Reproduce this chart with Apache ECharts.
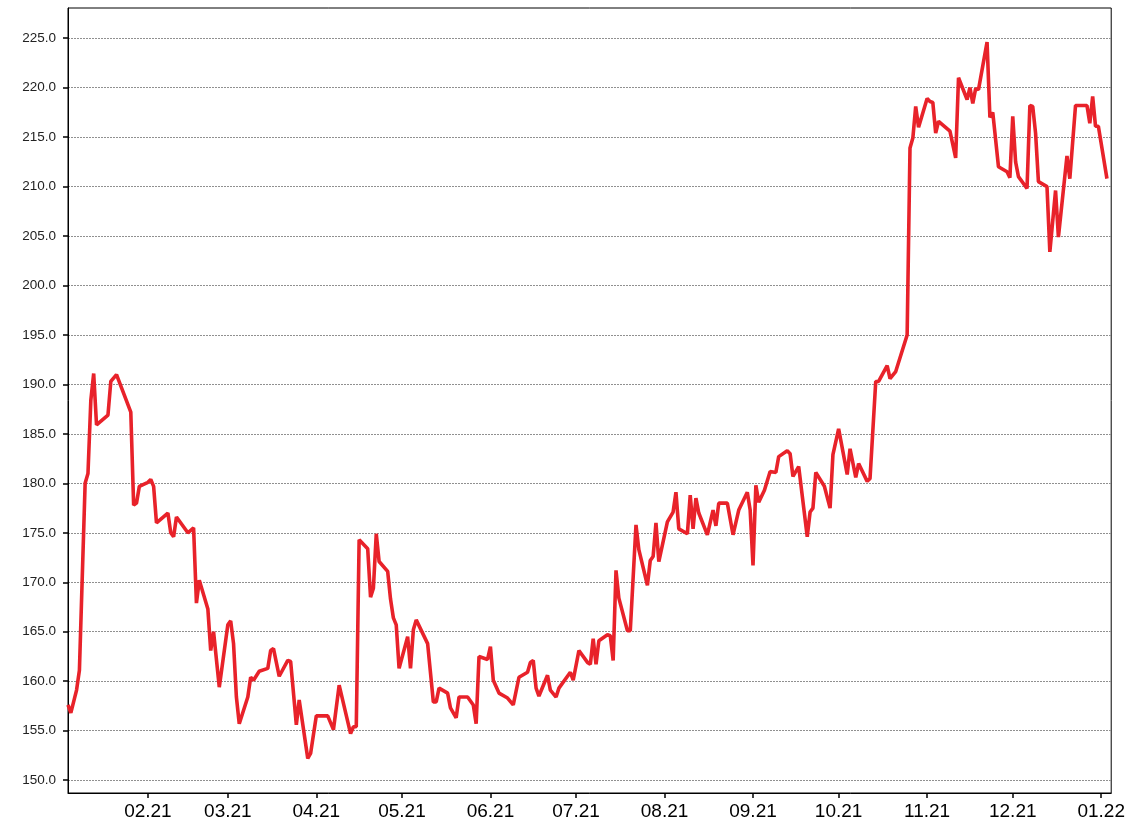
<!DOCTYPE html>
<html>
<head>
<meta charset="utf-8">
<script src="https://cdn.jsdelivr.net/npm/echarts@6/dist/echarts.min.js"></script>
<style>html,body{margin:0;padding:0;background:#fff}#c{width:1128px;height:836px}</style>
</head>
<body>
<div id="c"></div>
<script>
const dates = [
'2021-01-04','2021-01-05','2021-01-07','2021-01-08','2021-01-10','2021-01-11','2021-01-12','2021-01-13','2021-01-14',
'2021-01-18','2021-01-19','2021-01-21','2021-01-26','2021-01-27','2021-01-28','2021-01-29',
'2021-02-01','2021-02-02','2021-02-03','2021-02-04','2021-02-08','2021-02-09','2021-02-10','2021-02-11','2021-02-15',
'2021-02-17','2021-02-18','2021-02-19','2021-02-22','2021-02-23','2021-02-24','2021-02-26',
'2021-03-01','2021-03-02','2021-03-03','2021-03-04','2021-03-05','2021-03-08','2021-03-09','2021-03-10','2021-03-12',
'2021-03-15','2021-03-16','2021-03-17','2021-03-19','2021-03-22','2021-03-23','2021-03-25','2021-03-26','2021-03-29','2021-03-30',
'2021-04-01','2021-04-05','2021-04-07','2021-04-09','2021-04-13','2021-04-14','2021-04-15','2021-04-16','2021-04-19',
'2021-04-20','2021-04-21','2021-04-22','2021-04-23','2021-04-26','2021-04-27','2021-04-28','2021-04-29','2021-04-30',
'2021-05-03','2021-05-04','2021-05-05','2021-05-06','2021-05-10','2021-05-12','2021-05-13','2021-05-14','2021-05-17',
'2021-05-18','2021-05-20','2021-05-21','2021-05-24','2021-05-26','2021-05-27','2021-05-28','2021-05-31',
'2021-06-01','2021-06-02','2021-06-04','2021-06-07','2021-06-09','2021-06-11','2021-06-14','2021-06-15','2021-06-16',
'2021-06-17','2021-06-18','2021-06-21','2021-06-22','2021-06-24','2021-06-25','2021-06-29','2021-06-30',
'2021-07-02','2021-07-05','2021-07-06','2021-07-07','2021-07-08','2021-07-09','2021-07-12','2021-07-13','2021-07-14',
'2021-07-15','2021-07-16','2021-07-19','2021-07-20','2021-07-22','2021-07-23','2021-07-26','2021-07-27','2021-07-28',
'2021-07-29','2021-07-30',
'2021-08-02','2021-08-04','2021-08-05','2021-08-06','2021-08-09','2021-08-10','2021-08-11','2021-08-12','2021-08-13',
'2021-08-16','2021-08-18','2021-08-19','2021-08-20','2021-08-23','2021-08-25','2021-08-27','2021-08-30','2021-08-31',
'2021-09-01','2021-09-02','2021-09-03','2021-09-05','2021-09-07','2021-09-09','2021-09-10','2021-09-13','2021-09-14',
'2021-09-15','2021-09-17','2021-09-20','2021-09-21','2021-09-22','2021-09-23','2021-09-26','2021-09-28','2021-09-29',
'2021-10-01','2021-10-04','2021-10-05','2021-10-07','2021-10-08','2021-10-11','2021-10-12','2021-10-14','2021-10-15',
'2021-10-18','2021-10-19','2021-10-21','2021-10-25','2021-10-26','2021-10-27','2021-10-28','2021-10-29',
'2021-11-01','2021-11-02','2021-11-03','2021-11-04','2021-11-05','2021-11-09','2021-11-11','2021-11-12','2021-11-15',
'2021-11-16','2021-11-17','2021-11-18','2021-11-19','2021-11-22','2021-11-23','2021-11-24','2021-11-26','2021-11-29','2021-11-30',
'2021-12-01','2021-12-02','2021-12-03','2021-12-06','2021-12-07','2021-12-08','2021-12-09','2021-12-10','2021-12-13',
'2021-12-14','2021-12-16','2021-12-17','2021-12-20','2021-12-21','2021-12-23','2021-12-27','2021-12-28','2021-12-29',
'2021-12-30','2021-12-31','2022-01-03'
];
const prices = [
157.6,156.8,159.1,161.1,180.0,181.0,188.4,191.1,185.9,
186.9,190.3,191.0,187.2,177.8,178.0,179.7,
180.1,180.4,179.7,176.0,177.0,175.0,174.6,176.6,175.0,
175.5,167.9,170.2,167.3,163.1,165.0,159.4,
165.7,166.1,163.8,158.4,155.7,158.4,160.4,160.1,161.0,
161.3,163.1,163.3,160.5,162.1,162.0,155.6,158.1,152.2,152.7,
156.5,156.5,155.1,159.6,154.7,155.4,155.4,174.3,173.4,
168.5,169.4,174.9,172.1,171.1,168.3,166.4,165.7,161.3,
164.5,161.3,165.2,166.2,163.8,157.9,157.9,159.3,158.8,
157.3,156.3,158.4,158.4,157.6,155.7,162.5,162.2,
163.5,160.1,158.8,158.3,157.6,160.4,160.9,161.9,162.1,
159.3,158.5,160.6,159.1,158.4,159.3,160.9,160.1,
163.1,161.9,161.7,164.3,161.7,164.1,164.7,164.6,162.1,
171.2,168.4,165.1,165.1,175.8,173.3,169.7,172.2,172.6,
176.0,172.1,
176.1,177.1,179.1,175.4,174.9,178.8,175.4,178.5,177.0,
174.8,177.3,175.7,178.0,178.0,174.8,177.3,179.1,177.3,
171.7,179.8,178.1,179.3,181.2,181.1,182.7,183.3,183.0,
180.7,181.7,174.6,177.1,177.5,181.1,179.7,177.5,182.9,
185.5,180.9,183.5,180.6,182.0,180.2,180.5,190.3,190.3,
191.9,190.6,191.3,195.0,213.9,214.9,218.1,216.0,
218.9,218.6,218.5,215.4,216.6,215.6,212.9,221.0,218.8,
220.0,218.4,219.9,219.8,224.6,217.0,217.5,212.0,211.5,210.9,
217.1,212.5,211.0,209.8,218.2,218.1,215.4,210.5,210.0,
203.4,209.6,204.9,213.1,210.8,218.2,218.2,216.4,219.1,
216.1,216.1,210.8
];
const yTicks = [150,155,160,165,170,175,180,185,190,195,200,205,210,215,220,225];
const monthTicks = ['2021-02-01','2021-03-01','2021-04-01','2021-05-01','2021-06-01','2021-07-01','2021-08-01','2021-09-01','2021-10-01','2021-11-01','2021-12-01','2022-01-01'];

const toTs = s => { const p = s.split('-').map(Number); return new Date(p[0], p[1]-1, p[2]).getTime(); };
const seriesData = dates.map((d,i) => [toTs(d), prices[i]]);
const monthTs = monthTicks.map(toTs);
const xMin = toTs('2021-01-04');
const xMax = toTs('2022-01-04') + 12*3600*1000;

const chart = echarts.init(document.getElementById('c'), null, {renderer:'canvas'});
chart.setOption({
  animation: false,
  backgroundColor: '#fff',
  grid: {left: 68, right: 16, top: 8, bottom: 43, show: true, borderColor: '#000', borderWidth: 1, containLabel: false},
  xAxis: {
    type: 'value', min: xMin, max: xMax, scale: true,
    axisLine: {show: true, lineStyle: {color: '#000', width: 1}},
    axisTick: {show: true, length: 5, lineStyle: {color: '#000', width: 1.5}, customValues: monthTs},
    axisLabel: {
      customValues: monthTs, margin: 9,
      fontFamily: 'Liberation Sans, Arial, sans-serif', fontSize: 19, color: '#000',
      formatter: v => { const d = new Date(v); return String(d.getMonth()+1).padStart(2,'0') + '.' + String(d.getFullYear()%100).padStart(2,'0'); }
    },
    splitLine: {show: false}
  },
  yAxis: {
    type: 'value', min: 148.7, max: 228.05,
    axisLine: {show: true, lineStyle: {color: '#000', width: 1}},
    axisTick: {show: true, length: 5, lineStyle: {color: '#000', width: 1.5}, customValues: yTicks},
    axisLabel: {
      customValues: yTicks, margin: 12,
      fontFamily: 'Liberation Sans, Arial, sans-serif', fontSize: 13.5, color: '#222',
      formatter: v => v.toFixed(1)
    },
    splitLine: {show: true, lineStyle: {color: '#909090', width: 1, type: [2,1]}}
  },
  series: [{
    type: 'line', data: seriesData, symbol: 'none', smooth: false,
    lineStyle: {color: '#e8222a', width: 3.6}, clip: true
  }]
});
</script>
</body>
</html>
